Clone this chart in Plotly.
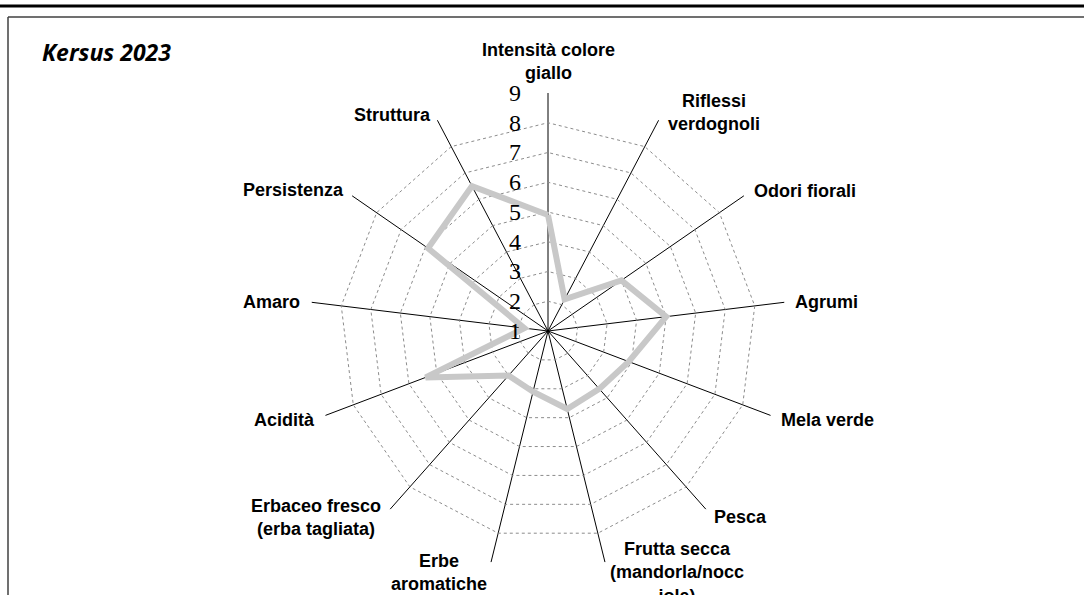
import plotly.graph_objects as go

# ---- data ----
categories = [
    "Intensità colore<br>giallo",
    "Riflessi<br>verdognoli",
    "Odori fiorali",
    "Agrumi",
    "Mela verde",
    "Pesca",
    "Frutta secca<br>(mandorla/nocc<br>iola)",
    "Erbe<br>aromatiche",
    "Erbaceo fresco<br>(erba tagliata)",
    "Acidità",
    "Amaro",
    "Persistenza",
    "Struttura",
]
values = [4.9, 2.2, 4.0, 5.0, 3.9, 3.6, 3.7, 3.1, 3.0, 5.4, 1.8, 5.9, 6.5]
radial_ticks = [1, 2, 3, 4, 5, 6, 7, 8, 9]
title_text = "Kersus 2023"

W, H = 1084, 595

# category label placement (layout only, pixels: x, y, xanchor)
label_pos = [
    (548, 62, "center"),
    (714, 112, "center"),
    (752, 191, "left"),
    (793, 302, "left"),
    (779, 420, "left"),
    (712, 517, "left"),
    (677, 572, "center"),
    (439, 572, "center"),
    (316, 517, "center"),
    (317, 420, "right"),
    (302, 302, "right"),
    (346, 190, "right"),
    (433, 115, "right"),
]

fig = go.Figure()
fig.add_trace(go.Scatterpolar(
    r=values + values[:1],
    theta=categories + categories[:1],
    mode="lines",
    line=dict(color="#c8c8c8", width=6),
    hoverinfo="skip",
    showlegend=False,
))

cx, cy, R = 548, 331, 238
label_font = dict(family="Liberation Sans, Arial", size=18, color="black",
                  weight="bold")
annotations = [dict(
    text=title_text,
    xref="paper", yref="paper",
    x=40 / W, y=1 - 52 / H,
    xanchor="left", yanchor="middle",
    showarrow=False,
    font=dict(family="Open Sans", size=23, color="black",
              weight="bold", style="italic"),
)]
for cat, (px, py, xa) in zip(categories, label_pos):
    annotations.append(dict(
        text=cat, xref="paper", yref="paper",
        x=px / W, y=1 - py / H,
        xanchor=xa, yanchor="middle", align=xa if xa != "center" else "center",
        showarrow=False, font=label_font,
    ))

fig.update_layout(
    width=W, height=H,
    margin=dict(l=0, r=0, t=0, b=0),
    paper_bgcolor="white",
    polar=dict(
        domain=dict(x=[(cx - R) / W, (cx + R) / W],
                    y=[1 - (cy + R) / H, 1 - (cy - R) / H]),
        bgcolor="white",
        gridshape="linear",
        angularaxis=dict(
            type="category",
            categoryorder="array",
            categoryarray=categories,
            direction="clockwise",
            rotation=90,
            showline=False,
            showgrid=True,
            gridcolor="black",
            gridwidth=1,
            ticks="",
            showticklabels=False,
        ),
        radialaxis=dict(
            range=[1, 9],
            angle=90,
            tickvals=radial_ticks,
            showline=False,
            showgrid=True,
            gridcolor="#8c8c8c",
            gridwidth=1,
            griddash="dot",
            side="counterclockwise",
            ticks="outside",
            ticklen=18,
            tickcolor="rgba(0,0,0,0)",
            tickangle=90,
            tickfont=dict(family="Liberation Serif, Times New Roman", size=24,
                          color="black"),
        ),
    ),
    annotations=annotations,
    shapes=[
        dict(type="line", xref="paper", yref="paper",
             x0=0, x1=1, y0=1 - 6 / H, y1=1 - 6 / H,
             line=dict(color="black", width=3)),
        dict(type="line", xref="paper", yref="paper",
             x0=8 / W, x1=1.01, y0=1 - 17 / H, y1=1 - 17 / H,
             line=dict(color="#404040", width=1.5)),
        dict(type="line", xref="paper", yref="paper",
             x0=8 / W, x1=8 / W, y0=1 - 17 / H, y1=-0.01,
             line=dict(color="#404040", width=1.5)),
    ],
)

fig.write_html("out.html",
               config={"displayModeBar": False},
               post_script="document.body.style.margin='0';document.body.style.overflow='hidden';")
